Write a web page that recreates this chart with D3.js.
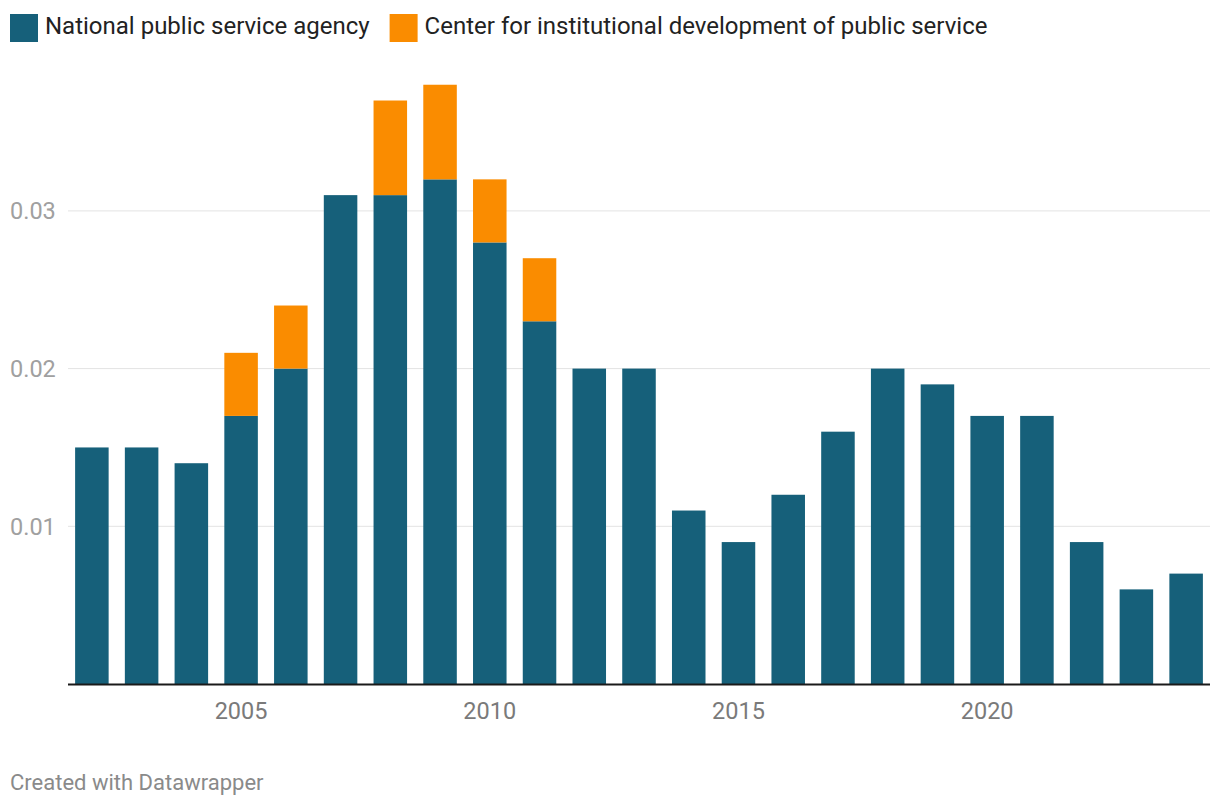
<!DOCTYPE html>
<html><head><meta charset="utf-8">
<script src="https://cdn.jsdelivr.net/npm/d3@7"></script>
<style>
html,body{margin:0;padding:0;background:#fff;}
svg{display:block;font-family:Roboto,"Noto Sans",sans-serif;}
</style></head>
<body>
<svg id="chart" width="1220" height="808"></svg>
<script>
const years = [2002,2003,2004,2005,2006,2007,2008,2009,2010,2011,2012,2013,2014,2015,2016,2017,2018,2019,2020,2021,2022,2023,2024];
const agency = [0.015,0.015,0.014,0.017,0.020,0.031,0.031,0.032,0.028,0.023,0.020,0.020,0.011,0.009,0.012,0.016,0.020,0.019,0.017,0.017,0.009,0.006,0.007];
const center = [0,0,0,0.004,0.004,0,0.006,0.006,0.004,0.004,0,0,0,0,0,0,0,0,0,0,0,0,0];
const seriesNames = ["National public service agency","Center for institutional development of public service"];
const colors = ["#16607a","#fa8c00"];
const yTicks = [0.01,0.02,0.03];
const xTicks = [2005,2010,2015,2020];

(function(){
const svg = d3.select("#chart");
const mLeft = 68, mRight = 1210, mBottom = 684;

const x = d3.scaleBand().domain(years).range([mLeft,mRight]).paddingInner(0.326).paddingOuter(0.143);
const y = d3.scaleLinear().domain([0,0.038]).range([mBottom, mBottom - 0.038*15770]);

const g = svg.append("g");
yTicks.forEach(t=>{
  g.append("line").attr("x1",mLeft).attr("x2",mRight).attr("y1",y(t)).attr("y2",y(t))
   .attr("stroke","#e3e3e3").attr("stroke-width",1);
  g.append("text").attr("x",10).attr("y",y(t)).attr("dy","0.35em")
   .attr("font-size",23.5).attr("fill","#a0a0a0").text(d3.format(".2f")(t));
});

const data = years.map((yr,i)=>({year:yr, a:agency[i], c:center[i]}));
const stack = d3.stack().keys(["a","c"])(data);
stack.forEach((s,si)=>{
  svg.append("g").selectAll("rect").data(s.filter(d=>d[1]-d[0]>0)).join("rect")
    .attr("x",d=>x(d.data.year)).attr("width",x.bandwidth())
    .attr("y",d=>y(d[1])).attr("height",d=>y(d[0])-y(d[1]))
    .attr("fill",colors[si]);
});

svg.append("line").attr("x1",mLeft).attr("x2",mRight).attr("y1",mBottom+0.5).attr("y2",mBottom+0.5)
  .attr("stroke","#1a1a1a").attr("stroke-width",2);

xTicks.forEach(t=>{
  svg.append("text").attr("x",x(t)+x.bandwidth()/2).attr("y",718.5)
    .attr("text-anchor","middle").attr("font-size",23.5).attr("fill","#7a7a7a").text(t);
});

let lx = 10;
seriesNames.forEach((n,i)=>{
  svg.append("rect").attr("x",lx).attr("y",14).attr("width",28).attr("height",28).attr("fill",colors[i]);
  const t = svg.append("text").attr("x",lx+35).attr("y",34).attr("font-size",24).attr("fill","#222").text(n);
  lx += 35 + t.node().getComputedTextLength() + 20;
});

svg.append("text").attr("x",10).attr("y",790).attr("font-size",22).attr("fill","#8a8a8a").text("Created with Datawrapper");
})();
</script>
</body></html>
